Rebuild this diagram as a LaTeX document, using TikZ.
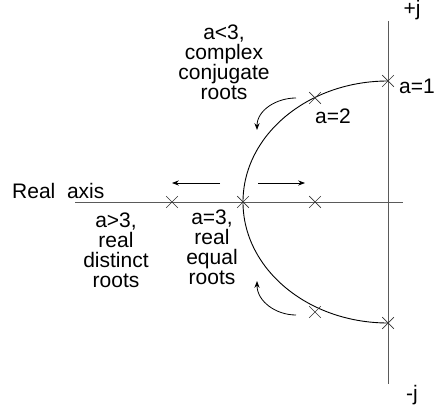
\documentclass[tikz,border=0pt]{standalone}
\usepackage{fontspec}
\setmainfont{Liberation Sans}
\usetikzlibrary{arrows.meta,shapes.misc}
\definecolor{axisgray}{HTML}{5A5A5A}
\tikzset{root/.style={cross out,draw=black!80,line width=0.7pt,minimum size=11pt,inner sep=0pt},
  lbl/.style={align=center,font=\fontsize{21}{20}\selectfont,inner sep=0pt},
  arrow/.style={-{Stealth[length=2.4mm,width=1.8mm]},line width=0.8pt,draw=black},
  axis/.style={draw=axisgray,line width=0.9pt}}
\begin{document}
\begin{tikzpicture}[x=1pt,y=1pt]
\useasboundingbox (0,0) rectangle (436,407);
% axes
\coordinate (ytop) at (388,386);
\coordinate (ybot) at (388,23);
\coordinate (xl) at (75,205);
\coordinate (xr) at (403,205);
\draw[axis] (ytop)--(ybot);
\draw[axis] (xl)--(xr);
\node[lbl] (pj) at (412,397) {+j};
\node[lbl] (mj) at (412,12) {-j};
\node[lbl,anchor=west] (real) at (12,216) {Real\ \ axis};
% locus
\draw[line width=0.9pt] (388,326) arc[start angle=90,end angle=270,x radius=145,y radius=121];
\node[root] (a1) at (388,326) {};
\node[root] (a2) at (315,309) {};
\node[root] (a3) at (243,205) {};
\node[root] (r1) at (315,205) {};
\node[root] (r2) at (172,205) {};
\node[root] (c2) at (315,95) {};
\node[root] (c1) at (388,84) {};
% labels
\node[lbl,anchor=east] (l1) at (435,321) {a=1};
\node[lbl] (l2) at (333,291) {a=2};
\node[lbl] (cc) at (224,345) {a<3,\\complex\\conjugate\\roots};
\node[lbl] (rd) at (116,157) {a>3,\\real\\distinct\\roots};
\node[lbl] (re) at (212,160) {a=3,\\real\\equal\\roots};
% direction arrows
\coordinate (al0) at (220,224);
\coordinate (al1) at (172,224);
\coordinate (ar0) at (258,224);
\coordinate (ar1) at (305,224);
\coordinate (ct0) at (296,309);
\coordinate (ct1) at (257,277);
\coordinate (cb0) at (296,92);
\coordinate (cb1) at (257,126);
\draw[arrow] (al0)--(al1);
\draw[arrow] (ar0)--(ar1);
\draw[arrow] (ct0) to[out=180,in=90] (ct1);
\draw[arrow] (cb0) to[out=180,in=-90] (cb1);
\end{tikzpicture}
\end{document}
